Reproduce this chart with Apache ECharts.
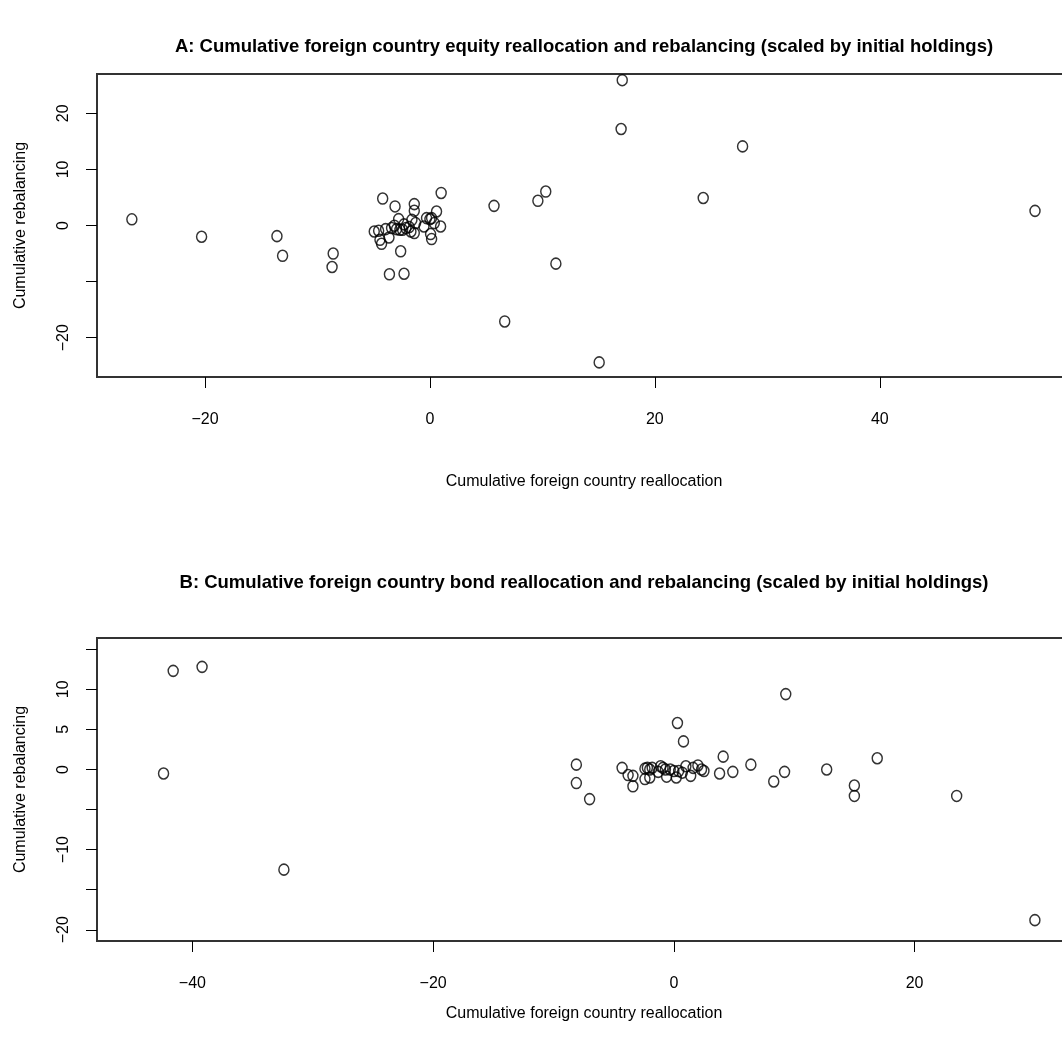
<!DOCTYPE html>
<html><head><meta charset="utf-8">
<script src="https://cdn.jsdelivr.net/npm/echarts@6/dist/echarts.min.js"></script>
<style>html,body{margin:0;padding:0;background:#fff;overflow:hidden}#c{width:1100px;height:1055px}</style>
</head><body><div id="c"></div>
<script>
// Panel A: equity (x = reallocation, y = rebalancing)
const equityPoints = [
  [-26.5, 1.1], [-20.3, -2.0], [-13.6, -1.9], [-13.1, -5.4], [-8.6, -5.0], [-8.7, -7.4],
  [-3.6, -8.7], [-2.3, -8.6], [-2.6, -4.6], [-4.2, 4.8], [-3.1, 3.4], [1.0, 5.8],
  [-4.95, -1.07], [-4.56, -0.94], [-4.44, -2.55], [-4.3, -3.26], [-3.94, -0.64], [-3.64, -2.14],
  [-3.41, -0.46], [-3.16, -0.05], [-2.96, -0.64], [-2.78, 1.14], [-2.67, -0.77], [-2.43, -0.77],
  [-2.13, -0.46], [-1.84, -0.28], [-1.69, -1.07], [-1.6, 1.01], [-1.39, 3.81], [-1.39, 2.62],
  [-1.27, 0.43], [-1.39, -1.35], [-0.53, -0.18], [-0.3, 1.32], [0.0, 1.14], [0.15, 1.32],
  [0.06, -1.53], [0.15, -2.42], [0.39, 0.43], [0.59, 2.49], [0.95, -0.18], [-2.3, 0.2],
  [5.7, 3.5], [9.6, 4.4], [10.3, 6.05], [24.3, 4.9], [53.8, 2.6], [17.1, 25.9], [17.0, 17.2],
  [27.8, 14.1], [11.2, -6.8], [6.65, -17.1], [15.05, -24.4]
];
// Panel B: bond
const bondPoints = [
  [-41.6, 12.3], [-39.2, 12.8], [-42.4, -0.5], [-32.4, -12.5], [-8.1, 0.6], [-8.1, -1.7],
  [-7.0, -3.7], [0.3, 5.8], [0.8, 3.5], [4.1, 1.6], [3.8, -0.5], [4.9, -0.3], [6.4, 0.6],
  [8.3, -1.5], [9.2, -0.3], [9.3, 9.4], [12.7, 0.0], [15.0, -2.0], [15.0, -3.3], [16.9, 1.4],
  [23.5, -3.3], [30.0, -18.8],
  [-4.3, 0.2], [-3.8, -0.7], [-3.4, -0.8], [-3.4, -2.1], [-2.4, -1.2], [-2.4, 0.1], [-2.2, 0.2],
  [-2.0, 0.0], [-2.0, -1.0], [-1.8, 0.2], [-1.3, -0.3], [-1.1, 0.4], [-0.9, 0.2], [-0.7, 0.0],
  [-0.6, -0.9], [-0.3, 0.0], [0.0, -0.2], [0.2, -1.0], [0.4, -0.2], [0.7, -0.4], [1.0, 0.4],
  [1.4, -0.8], [1.6, 0.2], [2.0, 0.5], [2.3, 0.0], [2.5, -0.2]
];
const titleA = 'A: Cumulative foreign country equity reallocation and rebalancing (scaled by initial holdings)';
const titleB = 'B: Cumulative foreign country bond reallocation and rebalancing (scaled by initial holdings)';
const xName = 'Cumulative foreign country reallocation';
const yName = 'Cumulative rebalancing';
const xTicksA = [-20, 0, 20, 40];
const yTicksA = [-20, -10, 0, 10, 20];
const yLabelsA = [-20, 0, 10, 20];
const xTicksB = [-40, -20, 0, 20];
const yTicksB = [-20, -15, -10, -5, 0, 5, 10, 15];
const yLabelsB = [-20, -10, 0, 5, 10];

const FONT = '"Liberation Sans", Arial, sans-serif';
const fmt = v => String(v).replace('-', '\u2212');
function xAxis(grid, min, max, ticks, gap) {
  return {
    type: 'value', gridIndex: grid, min, max,
    splitLine: {show: false}, axisLine: {show: false, onZero: false},
    axisTick: {show: true, length: 11, customValues: ticks, lineStyle: {color: '#000', width: 1}},
    axisLabel: {customValues: ticks, formatter: fmt, color: '#000', fontSize: 16, fontFamily: FONT, margin: 35},
    name: xName, nameLocation: 'middle', nameGap: gap,
    nameTextStyle: {color: '#000', fontSize: 16, fontFamily: FONT}
  };
}
function yAxis(grid, min, max, ticks, labels) {
  return {
    type: 'value', gridIndex: grid, min, max,
    splitLine: {show: false}, axisLine: {show: false, onZero: false},
    axisTick: {show: true, length: 11, customValues: ticks, lineStyle: {color: '#000', width: 1}},
    axisLabel: {customValues: labels, formatter: fmt, rotate: 90, color: '#000', fontSize: 16, fontFamily: FONT, margin: 25},
    name: yName, nameLocation: 'middle', nameGap: 68, nameRotate: 90,
    nameTextStyle: {color: '#000', fontSize: 16, fontFamily: FONT}
  };
}
const circle = {color: 'rgba(0,0,0,0)', borderColor: '#000', borderWidth: 1.5};
const TFONT = 'bold 18.5px "Liberation Sans", Arial, sans-serif';
const chart = echarts.init(document.getElementById('c'), null, {renderer: 'canvas'});
chart.setOption({
  animation: false,
  backgroundColor: '#fff',
  grid: [
    {left: 97, top: 74, width: 974, height: 303, show: true, borderColor: '#333', borderWidth: 2, backgroundColor: 'transparent', outerBoundsMode: 'none'},
    {left: 97, top: 638, width: 974, height: 303, show: true, borderColor: '#333', borderWidth: 2, backgroundColor: 'transparent', outerBoundsMode: 'none'}
  ],
  xAxis: [xAxis(0, -29.6, 57.0, xTicksA, 97), xAxis(1, -47.93, 33.0, xTicksB, 65)],
  yAxis: [yAxis(0, -27, 27, yTicksA, yLabelsA), yAxis(1, -21.4, 16.4, yTicksB, yLabelsB)],
  graphic: [
    {type: 'text', x: 584, y: 47, style: {text: titleA, fill: '#000', font: TFONT, textAlign: 'center', textVerticalAlign: 'middle'}},
    {type: 'text', x: 584, y: 583, style: {text: titleB, fill: '#000', font: TFONT, textAlign: 'center', textVerticalAlign: 'middle'}}
  ],
  series: [
    {type: 'scatter', xAxisIndex: 0, yAxisIndex: 0, data: equityPoints, symbol: 'circle', symbolSize: [10, 11], itemStyle: circle, silent: true},
    {type: 'scatter', xAxisIndex: 1, yAxisIndex: 1, data: bondPoints, symbol: 'circle', symbolSize: [10, 11], itemStyle: circle, silent: true}
  ]
});
</script></body></html>
